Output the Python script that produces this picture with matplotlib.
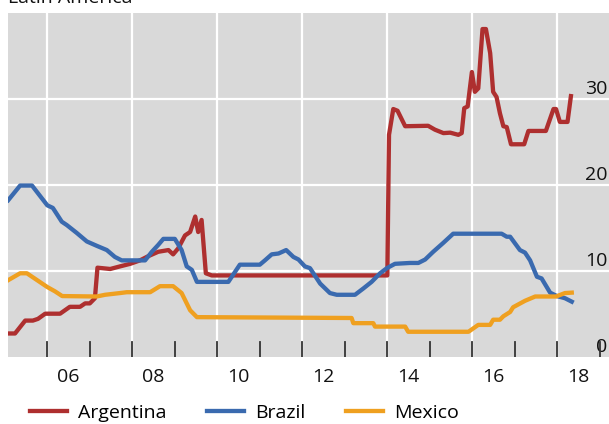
import matplotlib
matplotlib.use("Agg")
import matplotlib.pyplot as plt
import numpy as np

plt.rcParams['font.family'] = ['Open Sans', 'DejaVu Sans']

arg_t = [2005.08, 2005.24, 2005.48, 2005.66, 2005.78, 2005.95, 2006.30, 2006.53, 2006.77, 2006.89,
         2007.00, 2007.12, 2007.18, 2007.48, 2007.71, 2007.95, 2008.18, 2008.38, 2008.61, 2008.85,
         2008.96, 2009.08, 2009.24, 2009.36, 2009.48, 2009.55, 2009.63, 2009.73, 2009.87, 2014.00,
         2014.04, 2014.14, 2014.24, 2014.42, 2014.96, 2015.12, 2015.32, 2015.48, 2015.67, 2015.75,
         2015.81, 2015.89, 2015.99, 2016.06, 2016.14, 2016.24, 2016.32, 2016.42, 2016.49, 2016.57,
         2016.65, 2016.73, 2016.81, 2016.91, 2017.22, 2017.32, 2017.73, 2017.91, 2017.97, 2018.06,
         2018.24, 2018.32]
arg_v = [2.7, 2.7, 4.2, 4.2, 4.4, 5.0, 5.0, 5.8, 5.8, 6.2,
         6.2, 6.8, 10.35, 10.2, 10.5, 10.8, 11.2, 11.7, 12.2, 12.4,
         11.9, 12.6, 14.1, 14.5, 16.3, 14.5, 15.9, 9.7, 9.45, 9.45,
         25.8, 28.8, 28.6, 26.8, 26.85, 26.4, 26.0, 26.05, 25.8, 26.0,
         28.9, 29.1, 33.1, 30.8, 31.2, 38.1, 38.1, 35.3, 30.8, 30.2,
         28.3, 26.8, 26.7, 24.7, 24.7, 26.25, 26.25, 28.8, 28.8, 27.3,
         27.3, 30.3]

bra_t = [2005.08, 2005.36, 2005.64, 2006.00, 2006.13, 2006.34, 2006.46, 2006.69, 2006.93, 2007.16,
         2007.40, 2007.59, 2007.75, 2008.30, 2008.46, 2008.61, 2008.73, 2009.00, 2009.16, 2009.28,
         2009.40, 2009.52, 2010.26, 2010.53, 2011.00, 2011.12, 2011.28, 2011.44, 2011.62, 2011.79,
         2011.91, 2012.06, 2012.18, 2012.42, 2012.65, 2012.81, 2013.24, 2013.44, 2013.63, 2013.83,
         2013.99, 2014.18, 2014.53, 2014.73, 2014.89, 2015.08, 2015.32, 2015.55, 2016.69, 2016.81,
         2016.89, 2017.12, 2017.24, 2017.36, 2017.52, 2017.63, 2017.83, 2017.99, 2018.18, 2018.34]
bra_v = [18.2, 19.9, 19.9, 17.6, 17.3, 15.7, 15.3, 14.4, 13.4, 12.9,
         12.4, 11.6, 11.2, 11.2, 12.2, 13.0, 13.7, 13.7, 12.4, 10.5,
         10.1, 8.7, 8.7, 10.7, 10.7, 11.2, 11.9, 12.0, 12.4, 11.6,
         11.3, 10.5, 10.3, 8.5, 7.4, 7.2, 7.2, 7.95, 8.7, 9.7,
         10.3, 10.8, 10.9, 10.9, 11.3, 12.2, 13.25, 14.3, 14.3, 13.95,
         13.95, 12.4, 12.1, 11.2, 9.3, 9.1, 7.45, 7.05, 6.8, 6.4]

mex_t = [2005.08, 2005.36, 2005.52, 2006.00, 2006.18, 2006.35, 2007.16, 2007.36, 2007.71, 2007.87,
         2008.42, 2008.65, 2008.96, 2009.16, 2009.36, 2009.52, 2013.16, 2013.20, 2013.67, 2013.71,
         2014.42, 2014.49, 2015.91, 2016.14, 2016.42, 2016.49, 2016.65, 2016.73, 2016.89, 2016.96,
         2017.24, 2017.48, 2017.97, 2018.18, 2018.34]
mex_v = [8.9, 9.7, 9.7, 8.1, 7.6, 7.05, 7.0, 7.2, 7.4, 7.5,
         7.5, 8.2, 8.2, 7.4, 5.4, 4.6, 4.5, 3.9, 3.9, 3.5,
         3.5, 2.9, 2.9, 3.7, 3.7, 4.3, 4.3, 4.7, 5.2, 5.75,
         6.5, 7.0, 7.0, 7.4, 7.45]

series_names = ['Argentina', 'Brazil', 'Mexico']
colors = ['#AE2F2F', '#3A6AAF', '#EFA020']
year_labels = ['06', '08', '10', '12', '14', '16', '18']
y_ticks = [0, 10, 20, 30]

W, H = 609, 424
fig = plt.figure(figsize=(W / 100, H / 100), dpi=100)
ax = fig.add_axes([8.3 / W, 1 - 356.7 / H, 1 - 8.3 / W, 344 / H])
ax.set_facecolor('#D9D9D9')
ax.set_xlim(2005.082, 2019.216)
ax.set_ylim(0, 40)

for x in range(2006, 2019, 2):
    ax.axvline(x, color='white', lw=1.6, zorder=1)
for y in y_ticks[1:]:
    ax.axhline(y, color='white', lw=1.6, zorder=1)

lines = []
for t, v, c, n in zip([arg_t, bra_t, mex_t], [arg_v, bra_v, mex_v], colors, series_names):
    l, = ax.plot(t, v, color=c, lw=3.1, label=n, zorder=3, solid_joinstyle='round')
    lines.append(l)

# year tick marks
for x in range(2005, 2020):
    ax.plot([x, x], [0, 1.7], color='#333333', lw=1.3, zorder=4, clip_on=True)

for s in ax.spines.values():
    s.set_visible(False)
ax.set_xticks([])
ax.set_yticks([])

for i, lab in enumerate(year_labels):
    ax.text(2006.5 + 2 * i, -1.3, lab, ha='center', va='top', fontsize=14, color='#111111', clip_on=False)

for y in y_ticks:
    ax.text(2019.18, y + 0.55, str(y), ha='right', va='baseline', fontsize=14, color='#111111')

fig.text(8 / W, 1 - 3 / H, 'Latin America', ha='left', va='baseline', fontsize=14, color='#111111')

fig.legend(handles=lines, loc='center left', bbox_to_anchor=(30 / W, 1 - 413 / H), ncol=3,
           frameon=False, fontsize=14, handlelength=1.9, handletextpad=0.57, columnspacing=2.1,
           borderpad=0, borderaxespad=0)

fig.savefig('out.png', dpi=100)
